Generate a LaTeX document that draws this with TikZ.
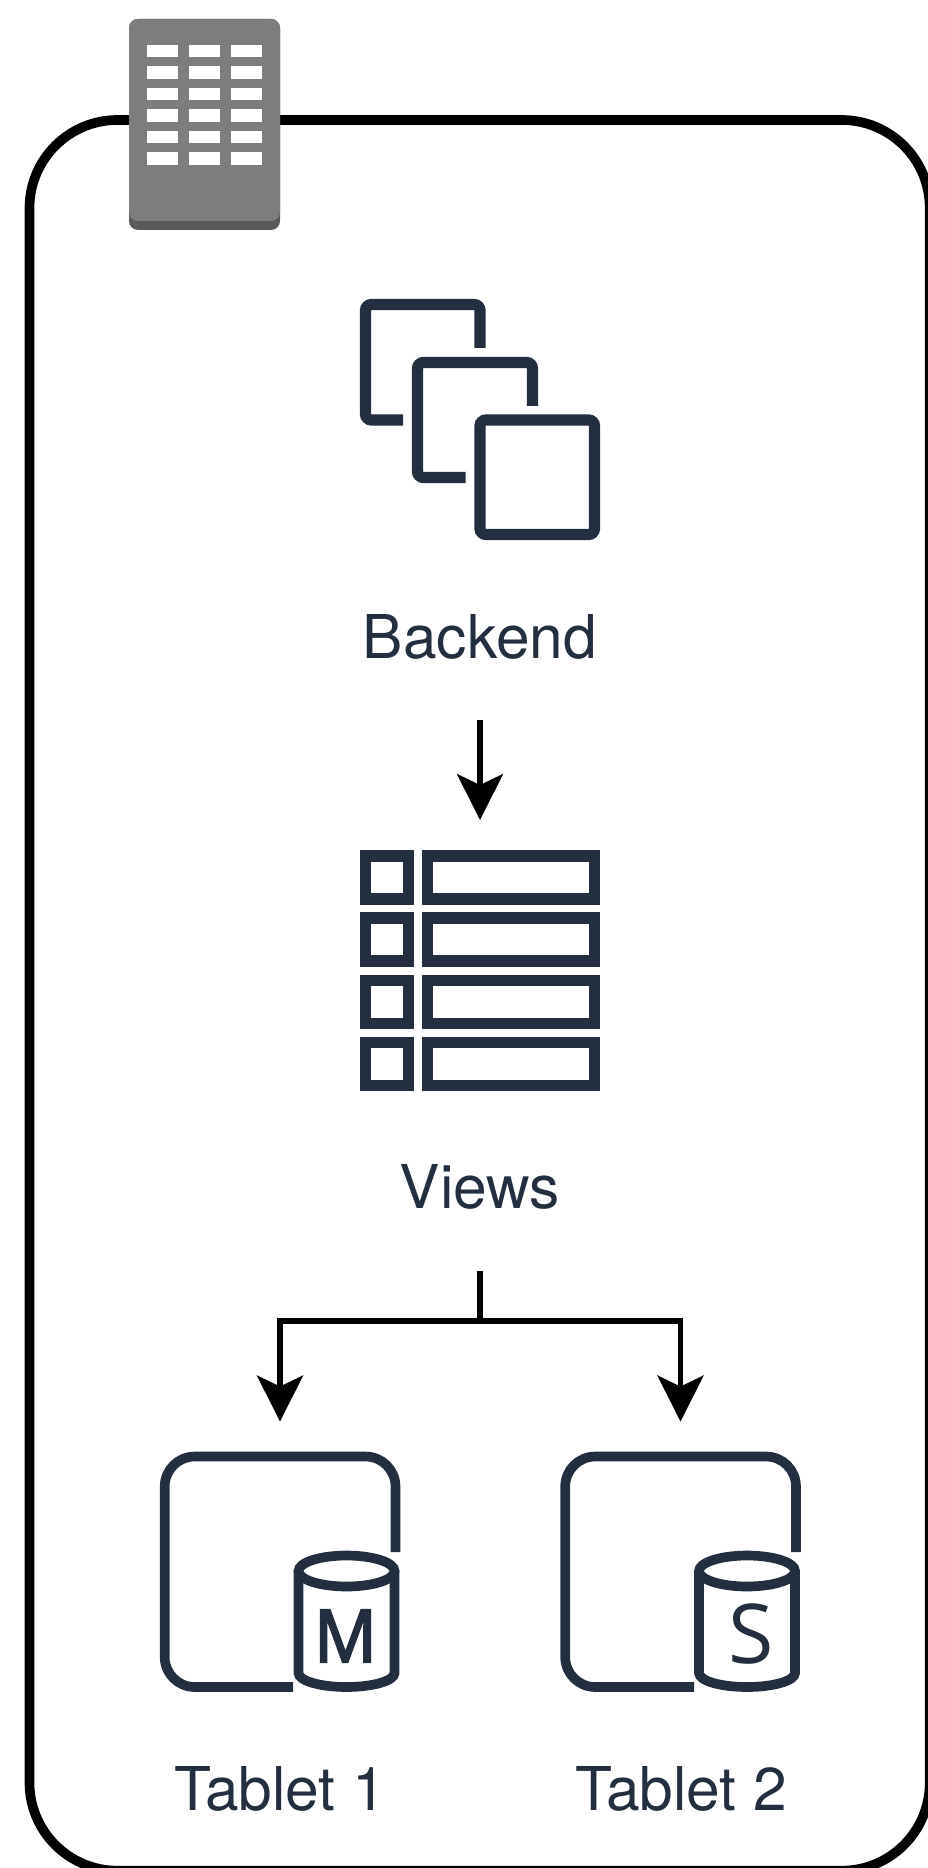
\documentclass[tikz,border=0pt]{standalone}
\usepackage{fontspec}
\setmainfont{TeX Gyre Heros}
\newfontfamily\badgefont{Open Sans}
\newfontfamily\heavybadgefont[FakeBold=3]{Open Sans}
\usetikzlibrary{arrows.meta}
\definecolor{iconink}{HTML}{232F3E}
\definecolor{servergray}{HTML}{7D7D7D}
\definecolor{serverbase}{HTML}{5A5A5A}
\tikzset{
  hostframe/.style={draw=black,line width=5.5pt,rounded corners=1.76cm},
  iconline/.style={draw=iconink,line width=6.4pt,rounded corners=0.12cm},
  gridline/.style={draw=iconink,line width=6.4pt},
  tabletline/.style={draw=iconink,line width=5.5pt,rounded corners=0.6cm},
  drumline/.style={draw=iconink,line width=5.5pt},
  window/.style={fill=white},
  flow/.style={black,line width=2.9pt},
  anchorbox/.style={inner sep=0pt,outer sep=0pt,minimum width=4cm},
  caption/.style={anchorbox,text=iconink,font=\fontsize{34.4}{41}\selectfont},
  badge/.style={inner sep=0pt,text=iconink}
}
\begin{document}
\begin{tikzpicture}[x=0.02cm,y=-0.02cm,>={Stealth[length=0.92cm,width=0.92cm,inset=0.22cm]}]
\clip (0,0) rectangle (928,1868);
\draw [hostframe] (29.5,120) rectangle (929.7,1870.7);
\fill [serverbase,rounded corners=0.18cm] (129,19) rectangle (280,230);
\fill [servergray,rounded corners=0.18cm] (129,19) rectangle (280,221);
\fill [window] (147,45) rectangle (178,57);
\fill [window] (189,45) rectangle (220,57);
\fill [window] (231,45) rectangle (262,57);
\fill [window] (147,66) rectangle (178,79);
\fill [window] (189,66) rectangle (220,79);
\fill [window] (231,66) rectangle (262,79);
\fill [window] (147,88) rectangle (178,100);
\fill [window] (189,88) rectangle (220,100);
\fill [window] (231,88) rectangle (262,100);
\fill [window] (147,109) rectangle (178,122);
\fill [window] (189,109) rectangle (220,122);
\fill [window] (231,109) rectangle (262,122);
\fill [window] (147,131) rectangle (178,143);
\fill [window] (189,131) rectangle (220,143);
\fill [window] (231,131) rectangle (262,143);
\fill [window] (147,152) rectangle (178,165);
\fill [window] (189,152) rectangle (220,165);
\fill [window] (231,152) rectangle (262,165);
\draw [iconline] (403,420) -- (365.5,420) -- (365.5,304.5) -- (480,304.5) -- (480,348);
\draw [iconline] (465.5,477.5) -- (417.5,477.5) -- (417.5,362.5) -- (532.5,362.5) -- (532.5,406);
\draw [iconline] (480,420) rectangle (594.5,534.5);
\draw [gridline] (365.5,856) rectangle (408.5,899);
\draw [gridline] (427.5,856) rectangle (594.5,899);
\draw [gridline] (365.5,918) rectangle (408.5,961);
\draw [gridline] (427.5,918) rectangle (594.5,961);
\draw [gridline] (365.5,980.5) rectangle (408.5,1023.5);
\draw [gridline] (427.5,980.5) rectangle (594.5,1023.5);
\draw [gridline] (365.5,1042.5) rectangle (408.5,1085.5);
\draw [gridline] (427.5,1042.5) rectangle (594.5,1085.5);
\draw [tabletline] (293,1687) -- (164.7,1687) -- (164.7,1456.5) -- (395.5,1456.5) -- (395.5,1552);
\draw [drumline] (346.5,1571) ellipse (48 and 15.5);
\draw [drumline] (298.5,1571) -- (298.5,1673) arc (180:0:48 and 14) -- (394.5,1571);
\draw [tabletline] (694,1687) -- (565.2,1687) -- (565.2,1456.5) -- (796,1456.5) -- (796,1552);
\draw [drumline] (747,1571) ellipse (48 and 15.5);
\draw [drumline] (699,1571) -- (699,1673) arc (180:0:48 and 14) -- (795,1571);
\node [badge] (masterbadge) at (345.5,1636) {\scalebox{0.95}[1]{\heavybadgefont\fontsize{41.5}{48}\selectfont M}};
\node [badge] (slavebadge) at (751.5,1634) {\badgefont\fontsize{47}{55}\selectfont S};
\node [caption,minimum height=3.32cm] (backendlabel) at (480,637) {Backend};
\node [caption,minimum height=3.36cm] (viewslabel) at (480,1187) {Views};
\node [caption] (tablet1label) at (280,1789) {Tablet 1};
\node [caption] (tablet2label) at (681,1789) {Tablet 2};
\node [anchorbox,minimum height=6.02cm] (viewsicon) at (480,970.5) {};
\node [anchorbox,minimum height=5.26cm] (tablet1icon) at (280,1553) {};
\node [anchorbox,minimum height=5.26cm] (tablet2icon) at (680.5,1553) {};
\draw [flow,->] (backendlabel.south) -- (viewsicon.north);
\draw [flow,->] (viewslabel.south) -- (480,1321) -| (tablet1icon.north);
\draw [flow,->] (viewslabel.south) -- (480,1321) -| (tablet2icon.north);
\end{tikzpicture}
\end{document}
